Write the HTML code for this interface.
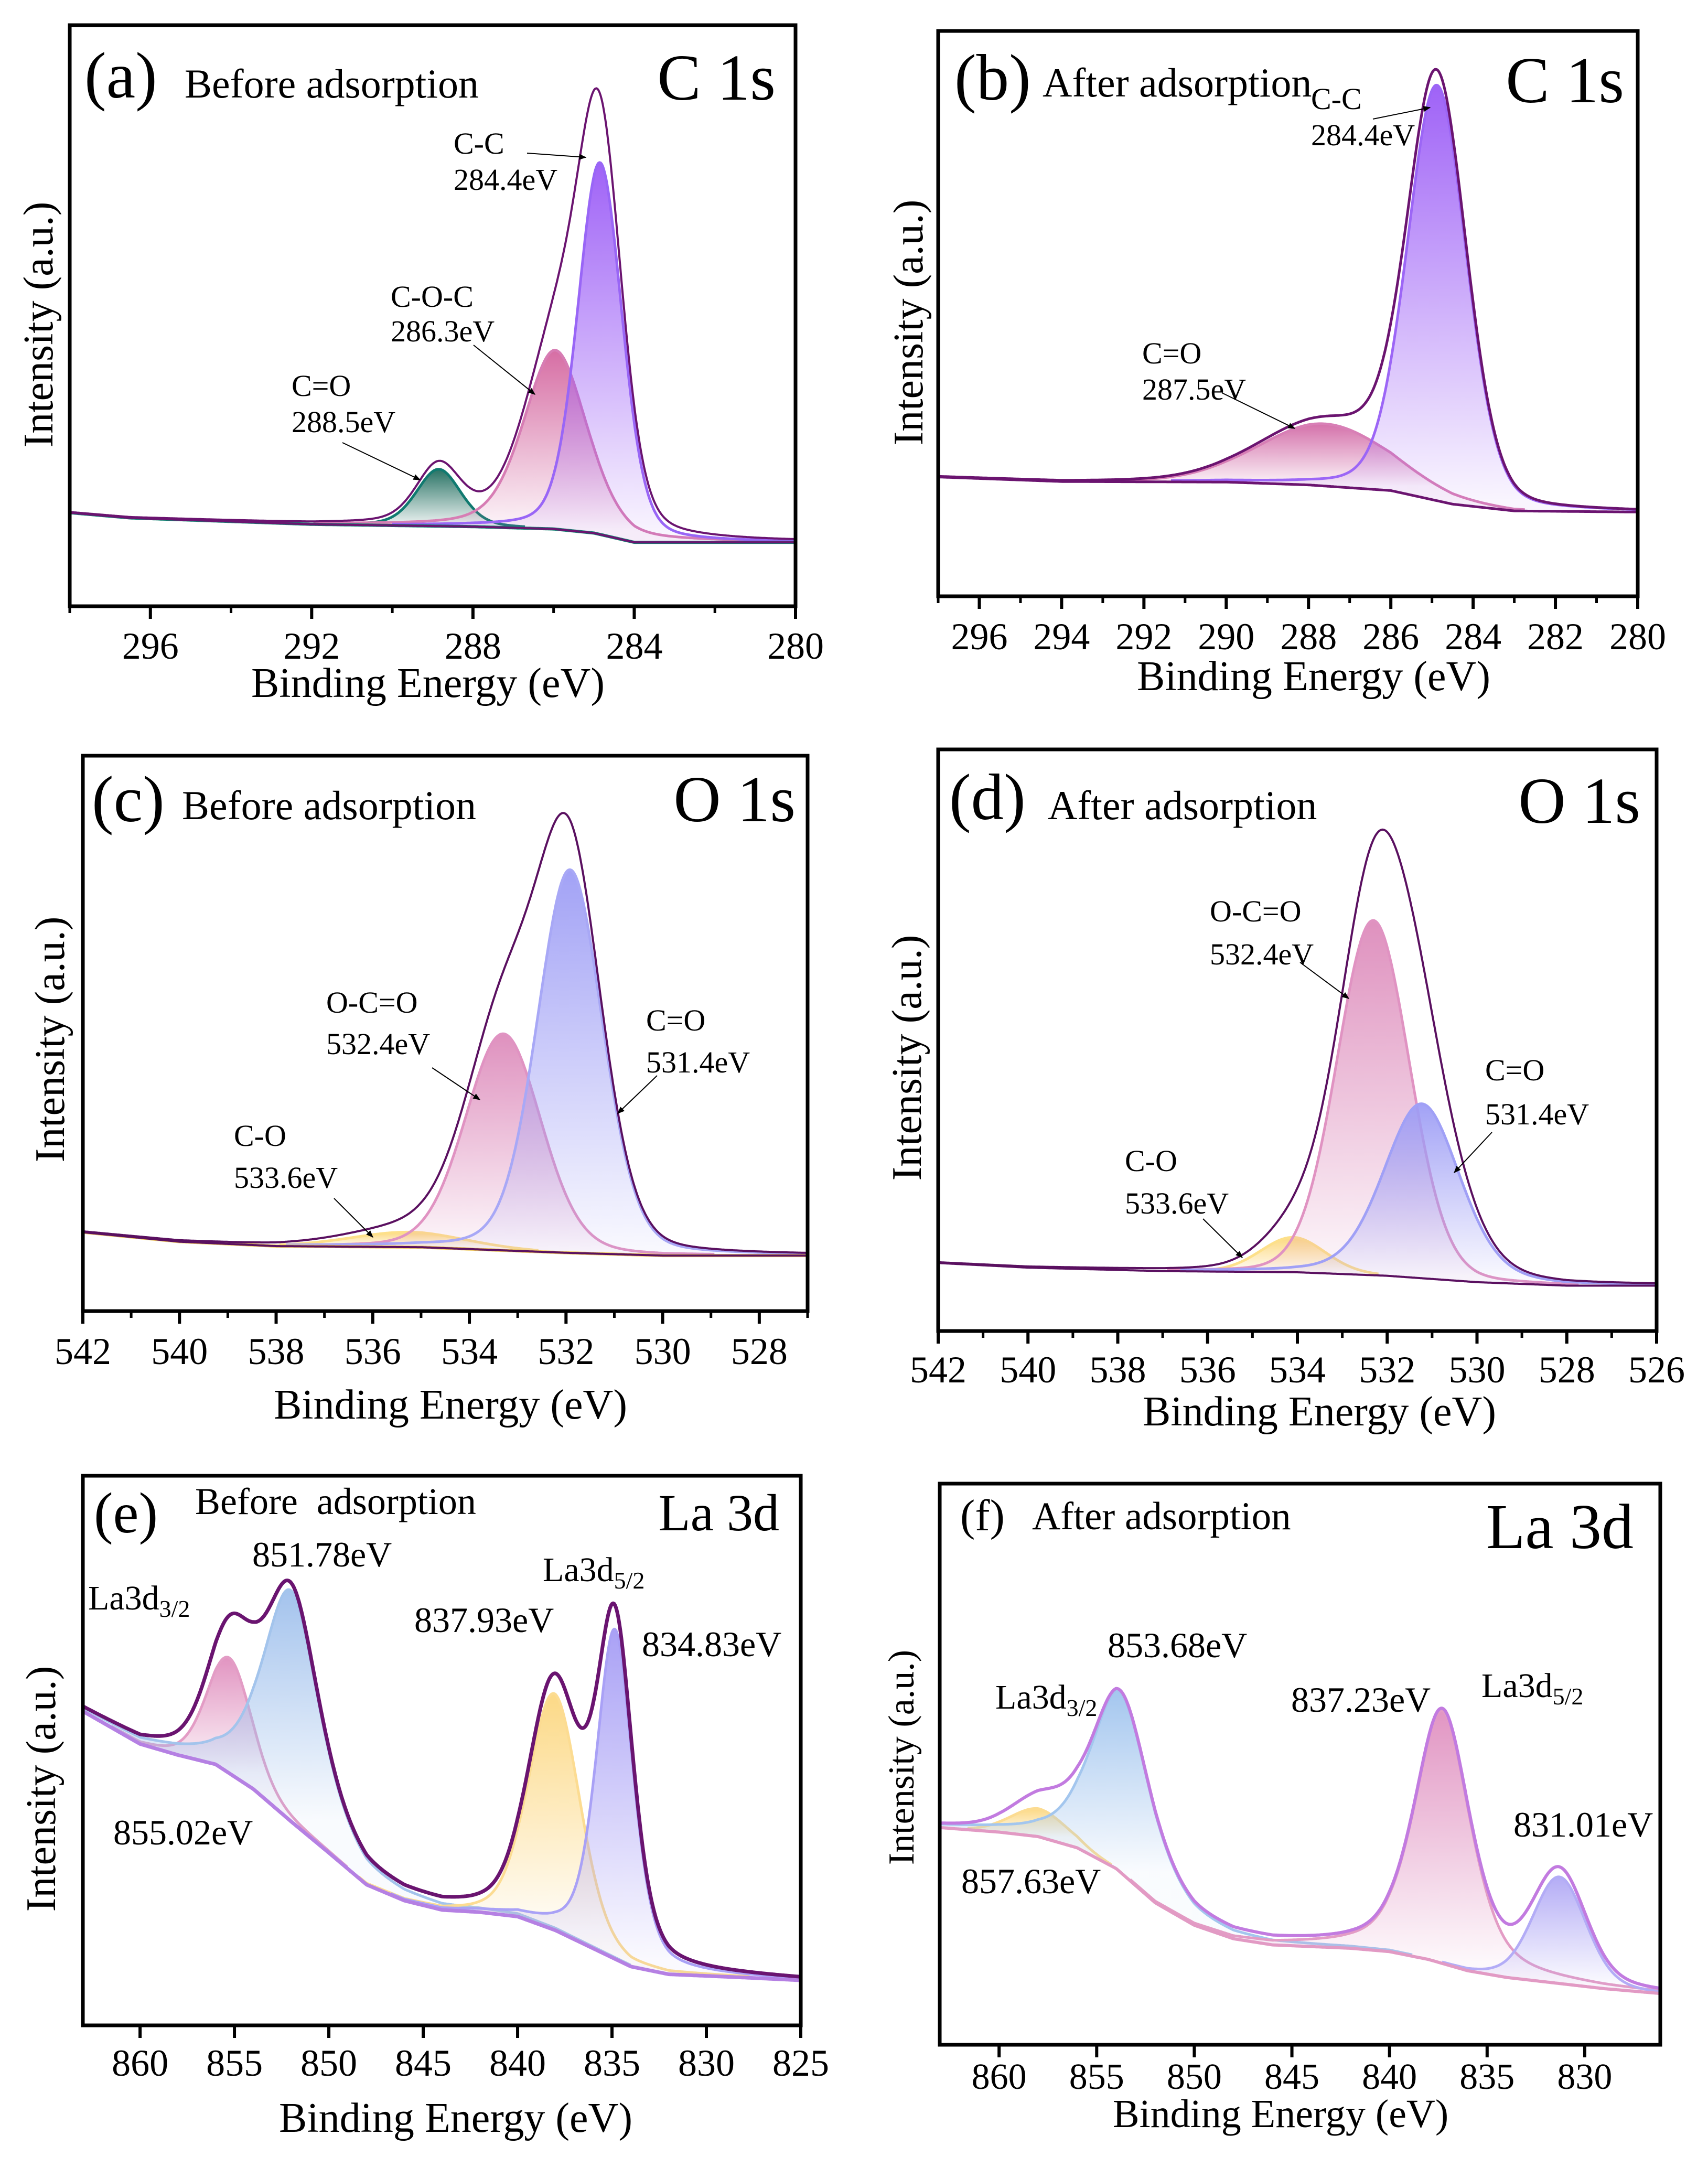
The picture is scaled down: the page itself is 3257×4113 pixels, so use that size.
<!DOCTYPE html>
<html><head><meta charset="utf-8"><style>
html,body{margin:0;padding:0;background:#fff;}
svg{display:block;}
text{font-family:"Liberation Serif","Times New Roman",serif;fill:#000;}
</style></head><body>
<svg id="fig" width="3257" height="4113" viewBox="0 0 3257 4113" xmlns="http://www.w3.org/2000/svg">
<defs>
<marker id="arr" viewBox="0 0 10 10" refX="9" refY="5" markerWidth="7" markerHeight="7" orient="auto"><path d="M0,1 L10,5 L0,9 z" fill="#000"/></marker>
</defs>
<g id="root"></g>
<g font-family="Liberation Serif, serif">
<!-- a -->
<text x="161" y="186" font-size="125">(a)</text>
<text x="352" y="186" font-size="78">Before adsorption</text>
<text x="1479" y="190" font-size="125" text-anchor="end">C 1s</text>
<text x="865" y="293" font-size="58">C-C</text>
<text x="865" y="362" font-size="58">284.4eV</text>
<line x1="1005" y1="292" x2="1117" y2="300" stroke="#000" stroke-width="2" marker-end="url(#arr)"/>
<text x="745" y="585" font-size="58">C-O-C</text>
<text x="745" y="651" font-size="58">286.3eV</text>
<line x1="903" y1="658" x2="1020" y2="752" stroke="#000" stroke-width="2" marker-end="url(#arr)"/>
<text x="556" y="755" font-size="58">C=O</text>
<text x="556" y="824" font-size="58">288.5eV</text>
<line x1="653" y1="844" x2="801" y2="915" stroke="#000" stroke-width="2" marker-end="url(#arr)"/>
<text transform="translate(100,619) rotate(-90)" font-size="80" text-anchor="middle">Intensity (a.u.)</text>
<text x="816" y="1329" font-size="80" text-anchor="middle">Binding Energy (eV)</text>
<!-- b -->
<text x="1820" y="190" font-size="125">(b)</text>
<text x="1988" y="184" font-size="78">After adsorption</text>
<text x="3097" y="195" font-size="125" text-anchor="end">C 1s</text>
<text x="2500" y="208" font-size="58">C-C</text>
<text x="2500" y="277" font-size="58">284.4eV</text>
<line x1="2618" y1="227" x2="2727" y2="205" stroke="#000" stroke-width="2" marker-end="url(#arr)"/>
<text x="2178" y="693" font-size="58">C=O</text>
<text x="2178" y="762" font-size="58">287.5eV</text>
<line x1="2330" y1="749" x2="2469" y2="817" stroke="#000" stroke-width="2" marker-end="url(#arr)"/>
<text transform="translate(1759,615) rotate(-90)" font-size="80" text-anchor="middle">Intensity (a.u.)</text>
<text x="2505" y="1316" font-size="80" text-anchor="middle">Binding Energy (eV)</text>
<!-- c -->
<text x="175" y="1566" font-size="125">(c)</text>
<text x="347" y="1562" font-size="78">Before adsorption</text>
<text x="1517" y="1566" font-size="125" text-anchor="end">O 1s</text>
<text x="622" y="1931" font-size="58">O-C=O</text>
<text x="622" y="2010" font-size="58">532.4eV</text>
<line x1="824" y1="2036" x2="915" y2="2097" stroke="#000" stroke-width="2" marker-end="url(#arr)"/>
<text x="1232" y="1965" font-size="58">C=O</text>
<text x="1232" y="2045" font-size="58">531.4eV</text>
<line x1="1253" y1="2051" x2="1178" y2="2123" stroke="#000" stroke-width="2" marker-end="url(#arr)"/>
<text x="446" y="2185" font-size="58">C-O</text>
<text x="446" y="2265" font-size="58">533.6eV</text>
<line x1="637" y1="2285" x2="711" y2="2359" stroke="#000" stroke-width="2" marker-end="url(#arr)"/>
<text transform="translate(122,1982) rotate(-90)" font-size="80" text-anchor="middle">Intensity (a.u.)</text>
<text x="859" y="2705" font-size="80" text-anchor="middle">Binding Energy (eV)</text>
<!-- d -->
<text x="1810" y="1562" font-size="125">(d)</text>
<text x="1998" y="1562" font-size="78">After adsorption</text>
<text x="3128" y="1569" font-size="125" text-anchor="end">O 1s</text>
<text x="2307" y="1757" font-size="58">O-C=O</text>
<text x="2307" y="1839" font-size="58">532.4eV</text>
<line x1="2479" y1="1835" x2="2572" y2="1904" stroke="#000" stroke-width="2" marker-end="url(#arr)"/>
<text x="2832" y="2060" font-size="58">C=O</text>
<text x="2832" y="2144" font-size="58">531.4eV</text>
<line x1="2845" y1="2159" x2="2773" y2="2236" stroke="#000" stroke-width="2" marker-end="url(#arr)"/>
<text x="2145" y="2233" font-size="58">C-O</text>
<text x="2145" y="2314" font-size="58">533.6eV</text>
<line x1="2294" y1="2324" x2="2369" y2="2398" stroke="#000" stroke-width="2" marker-end="url(#arr)"/>
<text transform="translate(1756,2017) rotate(-90)" font-size="80" text-anchor="middle">Intensity (a.u.)</text>
<text x="2516" y="2718" font-size="80" text-anchor="middle">Binding Energy (eV)</text>
<!-- e -->
<text x="179" y="2922" font-size="110">(e)</text>
<text x="372" y="2887" font-size="72" xml:space="preserve">Before  adsorption</text>
<text x="1486" y="2918" font-size="100" text-anchor="end">La 3d</text>
<text x="481" y="2987" font-size="68">851.78eV</text>
<text x="168" y="3069" font-size="66">La3d<tspan font-size="46" dy="14">3/2</tspan></text>
<text x="790" y="3112" font-size="68">837.93eV</text>
<text x="1035" y="3015" font-size="66">La3d<tspan font-size="46" dy="14">5/2</tspan></text>
<text x="1224" y="3158" font-size="68">834.83eV</text>
<text x="216" y="3517" font-size="68">855.02eV</text>
<text transform="translate(105,3411) rotate(-90)" font-size="80" text-anchor="middle">Intensity (a.u.)</text>
<text x="869" y="4065" font-size="80" text-anchor="middle">Binding Energy (eV)</text>
<!-- f -->
<text x="1831" y="2918" font-size="85">(f)</text>
<text x="1968" y="2916" font-size="75">After adsorption</text>
<text x="3115" y="2952" font-size="122" text-anchor="end">La 3d</text>
<text x="2112" y="3160" font-size="68">853.68eV</text>
<text x="1898" y="3258" font-size="66">La3d<tspan font-size="46" dy="14">3/2</tspan></text>
<text x="2462" y="3264" font-size="68">837.23eV</text>
<text x="2825" y="3236" font-size="66">La3d<tspan font-size="46" dy="14">5/2</tspan></text>
<text x="2886" y="3502" font-size="68">831.01eV</text>
<text x="1833" y="3610" font-size="68">857.63eV</text>
<text transform="translate(1742,3351) rotate(-90)" font-size="70" text-anchor="middle">Intensity (a.u.)</text>
<text x="2442" y="4056" font-size="76" text-anchor="middle">Binding Energy (eV)</text>
</g>
</svg>
<script>
// ===== Panel (a) C 1s before =====
const aBgE=[298,296.5,292,288,286,285,284,280.2];
const aBgV=[16.1,15.2,14.1,13.7,13.3,12.6,11.0,11.0];
const aNames=["C=O","C-O-C","C-C"];
const aCenters=[288.85,285.96,284.85];
const aHeights=[9.8,30.8,64];
const aFwhm=[1.3,1.85,1.3];
const aEta=[0.3,0.35,0.25];
const aTicks=[296,292,288,284,280];
// ===== Panel (b) C 1s after =====
const bBgE=[297,294,290,288,286,284.5,283,280];
const bBgV=[21.1,20.3,20.2,19.7,18.7,16.3,15.1,14.9];
const bNames=["C=O","C-C"];
const bCenters=[287.6,284.88];
const bHeights=[11,73.5];
const bFwhm=[3.8,1.7];
const bEta=[0.1,0.2];
const bTicks=[296,294,292,290,288,286,284,282,280];
// ===== Panel (c) O 1s before =====
const cBgE=[542,540,538,535,532,530,527];
const cBgV=[14.2,12.5,11.7,11.5,10.5,10.0,10.0];
const cNames=["C-O","O-C=O","C=O"];
const cCenters=[535.25,533.3,531.92];
const cHeights=[2.7,39,69];
const cFwhm=[2.8,1.85,1.6];
const cEta=[0.1,0.15,0.2];
const cTicks=[542,540,538,536,534,532,530,528];
// ===== Panel (d) O 1s after =====
const dBgE=[542,540,537,534,532,530,528,526];
const dBgV=[11.7,10.9,10.3,10.1,9.5,8.4,7.8,7.8];
const dNames=["C-O","O-C=O","C=O"];
const dCenters=[534.1,532.31,531.23];
const dHeights=[6,61,30];
const dFwhm=[1.7,1.9,2.0];
const dEta=[0.1,0.1,0.25];
const dTicks=[542,540,538,536,534,532,530,528,526];
// ===== Panel (e) La 3d before =====
const eBgE=[863,860,858,856,854,852,850,848,846,844,842,840,838,836,834,832,828,825];
const eBgV=[57.1,51.2,49.2,47.5,43.0,37.1,31.4,25.6,22.7,21.0,20.6,19.8,17.3,14.0,10.7,9.3,8.7,8.2];
const eNames=["855.02eV","851.78eV","837.93eV","834.83eV"];
const eCenters=[855.27,852.0,838.06,834.85];
const eHeights=[21,42,43,60];
const eFwhm=[2.8,3.6,3.2,2.3];
const eEta=[0.25,0.6,0.25,0.45];
const eTicks=[860,855,850,845,840,835,830,825];
// ===== Panel (f) La 3d after =====
const fBgE=[863,860,858,856,854,852,850,848,846,842,840,838,836,834,832,829,826];
const fBgV=[38.7,37.9,37.1,35.1,31.4,25.3,21.3,18.9,17.8,17.2,16.6,15.2,13.2,12.0,11.2,10.0,9.1];
const fNames=["857.63eV","853.68eV","837.23eV","831.01eV"];
const fCenters=[857.95,853.8,837.3,831.3];
const fHeights=[5,32,45,19];
const fFwhm=[3.4,3.6,3.4,3.2];
const fEta=[0.1,0.55,0.5,0.2];
const fTicks=[860,855,850,845,840,835,830];

const NS="http://www.w3.org/2000/svg";
const root=document.getElementById('root');
function mk(tag,attrs,parent){const e=document.createElementNS(NS,tag);for(const k in attrs)e.setAttribute(k,attrs[k]);(parent||root).appendChild(e);return e;}
function interp(E,xs,ys){
  if(E>=xs[0])return ys[0];
  for(let i=0;i<xs.length-1;i++){if(E<=xs[i]&&E>=xs[i+1]){const t=(xs[i]-E)/(xs[i]-xs[i+1]);return ys[i]+t*(ys[i+1]-ys[i]);}}
  return ys[ys.length-1];
}
function pv(E,c,h,w,eta){const d=(E-c)/(w/2);return h*(eta/(1+d*d)+(1-eta)*Math.exp(-Math.LN2*d*d));}

const panels=[
 {id:'a',x0:133,x1:1517,y0:48,y1:1156,e0:298,e1:280,bgE:aBgE,bgV:aBgV,names:aNames,c:aCenters,h:aHeights,w:aFwhm,eta:aEta,ticks:aTicks,minor:2,
  cols:[["#107a70","#1d6b5c"],["#d77db4","#d4669f"],["#9966f6","#9a5af6"]],env:"#6b1470",envW:4,bg:"#6b1470",bgW:4,bg2:"#128070",tickY:1256,tickF:72},
 {id:'b',x0:1789,x1:3123,y0:59,y1:1137,e0:297,e1:280,bgE:bBgE,bgV:bBgV,names:bNames,c:bCenters,h:bHeights,w:bFwhm,eta:bEta,ticks:bTicks,minor:1,
  cols:[["#d87fb6","#d26aa6"],["#9c66f6","#9a5af6"]],env:"#6b1470",envW:5,bg:"#6b1470",bgW:5,tickY:1238,tickF:72},
 {id:'c',x0:158,x1:1540,y0:1441,y1:2500,e0:542,e1:527,bgE:cBgE,bgV:cBgV,names:cNames,c:cCenters,h:cHeights,w:cFwhm,eta:cEta,ticks:cTicks,minor:1,
  cols:[["#fde08a","#fcd77a"],["#e093c2","#dd8bbb"],["#a8a8f6","#9d9df5"]],env:"#5a1060",envW:4,bg:"#5a1060",bgW:4,bg2:"#f3cf60",tickY:2601,tickF:72},
 {id:'d',x0:1789,x1:3159,y0:1429,y1:2538,e0:542,e1:526,bgE:dBgE,bgV:dBgV,names:dNames,c:dCenters,h:dHeights,w:dFwhm,eta:dEta,ticks:dTicks,minor:1,
  cols:[["#fde08a","#fcd77a"],["#e093c2","#dd8bbb"],["#a0a0f6","#9d9df5"]],env:"#5a1060",envW:4,bg:"#5a1060",bgW:4,tickY:2636,tickF:72},
 {id:'e',x0:158,x1:1527,y0:2814,y1:3862,e0:863.03,e1:825,bgE:eBgE,bgV:eBgV,names:eNames,c:eCenters,h:eHeights,w:eFwhm,eta:eEta,ticks:eTicks,minor:0,
  cols:[["#e39cc5","#e08fbe"],["#a3c4ec","#9fc0ec"],["#fcdc92","#fcd780"],["#a9a1f6","#a59cf5"]],env:"#6a1470",envW:7,bg:"#b580e3",bgW:7,tickY:3958,tickF:72},
 {id:'f',x0:1792,x1:3166,y0:2829,y1:3899,e0:863.04,e1:826.13,bgE:fBgE,bgV:fBgV,names:fNames,c:fCenters,h:fHeights,w:fFwhm,eta:fEta,ticks:fTicks,minor:0,
  cols:[["#fcdc92","#fcd780"],["#a3c6ee","#a0c4ee"],["#e39cc5","#e090c0"],["#b3acf6","#b0a8f5"]],env:"#c27be0",envW:6,bg:"#e29ac4",bgW:6,tickY:3983,tickF:70}
];

panels.forEach(p=>{
  const g=mk('g',{});
  
  
  const X=E=>p.x0+(p.e0-E)/(p.e0-p.e1)*(p.x1-p.x0);
  const Y=v=>p.y1-v/100*(p.y1-p.y0);
  const N=700,Es=[];
  for(let i=0;i<=N;i++)Es.push(p.e0-(p.e0-p.e1)*i/N);
  const bg=Es.map(E=>interp(E,p.bgE,p.bgV));
  p.c.forEach((c,k)=>{
    const vals=Es.map((E,i)=>pv(E,c,p.h[k],p.w[k],p.eta[k]));
    const idx=[];vals.forEach((v,i)=>{if(v>0.25)idx.push(i);});
    if(!idx.length)return;
    const gid='grad'+p.id+k;
    const top=Y(interp(c,p.bgE,p.bgV)+p.h[k]);
    const bot=Y(interp(c,p.bgE,p.bgV));
    const lg=mk('linearGradient',{id:gid,gradientUnits:'userSpaceOnUse',x1:0,y1:top,x2:0,y2:bot},g);
    mk('stop',{offset:'0','stop-color':p.cols[k][1],'stop-opacity':'0.95'},lg);
    mk('stop',{offset:'1','stop-color':p.cols[k][1],'stop-opacity':'0.06'},lg);
    let d='',ln='';
    idx.forEach((i,j)=>{const px=X(Es[i]).toFixed(1),py=Y(bg[i]+vals[i]).toFixed(1);d+=(j?'L':'M')+px+','+py;ln+=(j?'L':'M')+px+','+py;});
    for(let j=idx.length-1;j>=0;j--){const i=idx[j];d+='L'+X(Es[i]).toFixed(1)+','+Y(bg[i]).toFixed(1);}
    const f=mk('path',{d:d+'Z',fill:'url(#'+gid+')',stroke:'none'},g);
    
    
    const s=mk('path',{d:ln,fill:'none',stroke:p.cols[k][0],'stroke-width':5,'stroke-linejoin':'round'},g);
    
    
  });
  let bd='';Es.forEach((E,i)=>{bd+=(i?'L':'M')+X(E).toFixed(1)+','+Y(bg[i]).toFixed(1);});
  if(p.bg2){const b2=mk('path',{d:bd,fill:'none',stroke:p.bg2,'stroke-width':p.bgW+2},g);
    
    }
  const bl=mk('path',{d:bd,fill:'none',stroke:p.bg,'stroke-width':p.bgW},g);
  
  
  let ed='';Es.forEach((E,i)=>{let v=bg[i];p.c.forEach((c,k)=>{v+=pv(E,c,p.h[k],p.w[k],p.eta[k]);});ed+=(i?'L':'M')+X(E).toFixed(1)+','+Y(v).toFixed(1);});
  const el=mk('path',{d:ed,fill:'none',stroke:p.env,'stroke-width':p.envW,'stroke-linejoin':'round'},g);
  
  
  const fr=mk('rect',{x:p.x0,y:p.y0,width:p.x1-p.x0,height:p.y1-p.y0,fill:'none',stroke:'#000','stroke-width':7},g);
  
  
  p.ticks.forEach(t=>{
    const tx=X(t);
    const tl=mk('line',{x1:tx,y1:p.y1,x2:tx,y2:p.y1+24,stroke:'#000','stroke-width':6},g);
    
    
    const tt=mk('text',{x:tx,y:p.tickY,'font-size':p.tickF,'text-anchor':'middle'},g);
    tt.textContent=String(t);
    
    
  });
  if(p.minor){
    for(let t=Math.ceil(p.e1);t<=p.e0;t+=p.minor){
      if(p.ticks.indexOf(t)>=0)continue;
      const m=mk('line',{x1:X(t),y1:p.y1,x2:X(t),y2:p.y1+13,stroke:'#000','stroke-width':5},g);
      
      
    }
  }
});
</script>
</body></html>
